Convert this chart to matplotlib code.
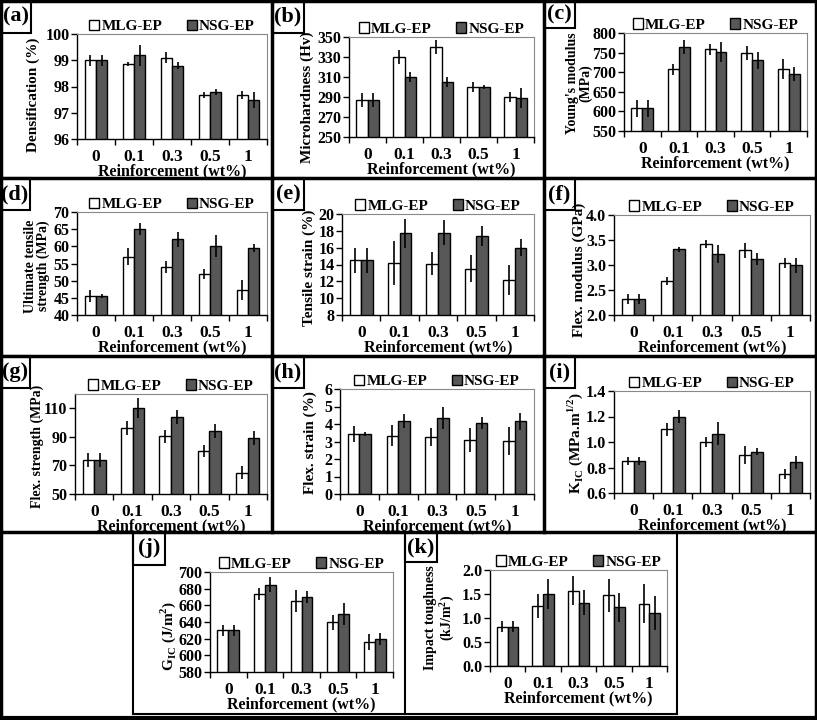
import numpy as np
import matplotlib
matplotlib.use("Agg")
import matplotlib.pyplot as plt
from matplotlib.patches import Patch, Rectangle
from matplotlib.lines import Line2D

plt.rcParams['font.family'] = 'Liberation Serif'
plt.rcParams['font.weight'] = 'bold'
plt.rcParams['mathtext.fontset'] = 'custom'
plt.rcParams['mathtext.rm'] = 'Liberation Serif:bold'
plt.rcParams['mathtext.bf'] = 'Liberation Serif:bold'

W, H = 817, 720

categories = ["0", "0.1", "0.3", "0.5", "1"]
series = ["MLG-EP", "NSG-EP"]

# (a) densification
dens_mlg = [99.0, 98.87, 99.1, 97.68, 97.68]
dens_mlg_err = [0.2, 0.08, 0.2, 0.12, 0.15]
dens_nsg = [99.0, 99.2, 98.8, 97.8, 97.5]
dens_nsg_err = [0.2, 0.4, 0.15, 0.12, 0.3]

# (b) microhardness
hard_mlg = [287, 330, 340, 300, 290]
hard_mlg_err = [7, 7, 7, 5, 5]
hard_nsg = [287, 310, 305, 300, 289]
hard_nsg_err = [7, 5, 5, 2, 10]

# (c) young's modulus
ym_mlg = [608, 707, 758, 748, 708]
ym_mlg_err = [22, 15, 15, 18, 25]
ym_nsg = [608, 765, 752, 730, 695]
ym_nsg_err = [22, 18, 25, 22, 18]

# (d) ultimate tensile strength
uts_mlg = [45.5, 57, 54, 52, 47.3]
uts_mlg_err = [1.8, 2.5, 1.8, 1.5, 2.8]
uts_nsg = [45.5, 65, 62, 60, 59.5]
uts_nsg_err = [0.6, 1.7, 2.2, 3.2, 1.2]

# (e) tensile strain
ts_mlg = [14.5, 14.2, 14.1, 13.5, 12.2]
ts_mlg_err = [1.5, 2.6, 1.4, 1.6, 1.8]
ts_nsg = [14.5, 17.7, 17.8, 17.4, 16.0]
ts_nsg_err = [1.5, 1.7, 1.5, 1.2, 1.0]

# (f) flexural modulus
fm_mlg = [2.32, 2.68, 3.43, 3.3, 3.05]
fm_mlg_err = [0.1, 0.08, 0.08, 0.15, 0.1]
fm_nsg = [2.32, 3.32, 3.22, 3.12, 3.0]
fm_nsg_err = [0.1, 0.05, 0.18, 0.12, 0.15]

# (g) flexural strength
fs_mlg = [74, 96, 90.5, 80, 65]
fs_mlg_err = [5, 5, 4.5, 4, 4.5]
fs_nsg = [74, 110.5, 104, 94, 89]
fs_nsg_err = [5, 7, 5, 5, 5]

# (h) flexural strain
fst_mlg = [3.42, 3.32, 3.25, 3.1, 3.05]
fst_mlg_err = [0.45, 0.6, 0.5, 0.7, 0.8]
fst_nsg = [3.42, 4.2, 4.35, 4.05, 4.15]
fst_nsg_err = [0.1, 0.4, 0.65, 0.35, 0.5]

# (i) K_IC
kic_mlg = [0.85, 1.1, 1.0, 0.9, 0.75]
kic_mlg_err = [0.03, 0.05, 0.04, 0.07, 0.04]
kic_nsg = [0.85, 1.2, 1.065, 0.925, 0.84]
kic_nsg_err = [0.03, 0.05, 0.09, 0.03, 0.05]

# (j) G_IC
gic_mlg = [630, 674, 665, 640, 616]
gic_mlg_err = [7, 7, 13, 9, 10]
gic_nsg = [630, 685, 670, 650, 620]
gic_nsg_err = [7, 9, 7, 13, 7]

# (k) impact toughness
imp_mlg = [0.82, 1.25, 1.57, 1.47, 1.3]
imp_mlg_err = [0.12, 0.26, 0.3, 0.35, 0.4]
imp_nsg = [0.82, 1.5, 1.32, 1.22, 1.1]
imp_nsg_err = [0.12, 0.32, 0.26, 0.3, 0.35]

dark = '#575757'


def box(l, t, r, b):
    return [l / W, 1 - b / H, (r - l) / W, (b - t) / H]


def fig_line(fig, x0, y0, x1, y1, lw=2.5):
    fig.add_artist(Line2D([x0 / W, x1 / W], [1 - y0 / H, 1 - y1 / H],
                          transform=fig.transFigure, color='black', lw=lw))


def panel_label(fig, text, l, t, r, b):
    fig.add_artist(Rectangle((l / W, 1 - b / H), (r - l) / W, (b - t) / H,
                             transform=fig.transFigure, fill=False,
                             edgecolor='black', lw=1.5, zorder=5))
    fig.text((l + r) / 2 / W, 1 - (t + b) / 2 / H, text, ha='center', va='center',
             fontsize=16, fontweight='bold', zorder=6)


def bar_panel(fig, pos, mlg, mlg_err, nsg, nsg_err, ylim, yticks, ylabel, lab_xy,
              fmt="{:g}", lab_size=11):
    ax = fig.add_axes(box(*pos))
    x = np.arange(len(categories))
    w = 0.3
    ax.bar(x - w / 2, mlg, w, color='white', edgecolor='black', lw=1.0, zorder=2)
    ax.bar(x + w / 2, nsg, w, color=dark, edgecolor='black', lw=1.0, zorder=2)
    ax.errorbar(x - w / 2, mlg, yerr=mlg_err, fmt='none', ecolor='black', elinewidth=1.2, zorder=3)
    ax.errorbar(x + w / 2, nsg, yerr=nsg_err, fmt='none', ecolor='black', elinewidth=1.2, zorder=3)
    ax.set_xlim(-0.5, len(categories) - 0.5)
    ax.set_ylim(*ylim)
    ax.set_yticks(yticks)
    ax.set_yticklabels([fmt.format(v) for v in yticks])
    ax.set_xticks(x)
    ax.set_xticklabels(categories)
    ax.set_xticks(np.arange(-0.5, len(categories)), minor=True)
    ax.tick_params(axis='x', which='major', length=0, pad=7, labelsize=12.5)
    ax.tick_params(axis='x', which='minor', length=4, width=1, direction='out')
    ax.tick_params(axis='y', length=4, width=1, direction='out', labelsize=11.5, pad=1.5)
    for s in ['top', 'right']:
        ax.spines[s].set_color('#888888')
        ax.spines[s].set_linewidth(0.8)
    for s in ['left', 'bottom']:
        ax.spines[s].set_linewidth(1.0)
    ax.set_xlabel("Reinforcement (wt%)", fontsize=11.5, fontweight='bold', labelpad=-1)
    fig.text(lab_xy[0] / W, 1 - lab_xy[1] / H, ylabel, rotation=90, ha='center', va='center',
             fontsize=lab_size, fontweight='bold', linespacing=0.95, multialignment='center')
    handles = [Patch(facecolor='white', edgecolor='black', lw=1.0),
               Patch(facecolor=dark, edgecolor='black', lw=1.0)]
    ax.legend(handles, series, loc='lower center', bbox_to_anchor=(0.5, 0.98), ncol=2,
              frameon=False, fontsize=11, handlelength=0.65, handleheight=0.65,
              handletextpad=0.15, columnspacing=1.6, borderaxespad=0.1, borderpad=0.1)
    return ax


fig = plt.figure(figsize=(W / 100, H / 100), dpi=100)

# row 1
bar_panel(fig, (77, 34, 267, 139), dens_mlg, dens_mlg_err, dens_nsg, dens_nsg_err,
          (96, 100), [96, 97, 98, 99, 100], "Densification (%)", (33, 95))
bar_panel(fig, (349, 37, 534, 137), hard_mlg, hard_mlg_err, hard_nsg, hard_nsg_err,
          (250, 350), [250, 270, 290, 310, 330, 350], "Microhardness (Hv)", (307, 97))
bar_panel(fig, (624, 33, 807, 131), ym_mlg, ym_mlg_err, ym_nsg, ym_nsg_err,
          (550, 800), [550, 600, 650, 700, 750, 800], "Young's modulus\n(MPa)", (579, 83),
          lab_size=10)
# row 2
bar_panel(fig, (77, 212, 267, 315), uts_mlg, uts_mlg_err, uts_nsg, uts_nsg_err,
          (40, 70), [40, 45, 50, 55, 60, 65, 70], "Ultimate tensile\nstrength (MPa)", (37, 266),
          lab_size=10)
bar_panel(fig, (342, 214, 534, 315), ts_mlg, ts_mlg_err, ts_nsg, ts_nsg_err,
          (8, 20), [8, 10, 12, 14, 16, 18, 20], "Tensile strain (%)", (309, 268))
bar_panel(fig, (614, 215, 810, 315), fm_mlg, fm_mlg_err, fm_nsg, fm_nsg_err,
          (2.0, 4.0), [2.0, 2.5, 3.0, 3.5, 4.0], "Flex. modulus (GPa)", (579, 270), fmt="{:.1f}")
# row 3
bar_panel(fig, (75, 394, 267, 494), fs_mlg, fs_mlg_err, fs_nsg, fs_nsg_err,
          (50, 120), [50, 70, 90, 110], "Flex. strength (MPa)", (37, 446), lab_size=10)
bar_panel(fig, (340, 389, 534, 494), fst_mlg, fst_mlg_err, fst_nsg, fst_nsg_err,
          (0, 6), [0, 1, 2, 3, 4, 5, 6], "Flex. strain (%)", (310, 443))
bar_panel(fig, (614, 391, 810, 493), kic_mlg, kic_mlg_err, kic_nsg, kic_nsg_err,
          (0.6, 1.4), [0.6, 0.8, 1.0, 1.2, 1.4],
          r"K$_{\mathregular{IC}}$ (MPa.m$^{\mathregular{1/2}}$)", (575, 443), fmt="{:.1f}")
# row 4
bar_panel(fig, (210, 572, 393, 672), gic_mlg, gic_mlg_err, gic_nsg, gic_nsg_err,
          (580, 700), [580, 600, 620, 640, 660, 680, 700],
          r"G$_{\mathregular{IC}}$ (J/m$^{\mathregular{2}}$)", (168, 636))
bar_panel(fig, (490, 570, 667, 666), imp_mlg, imp_mlg_err, imp_nsg, imp_nsg_err,
          (0.0, 2.0), [0.0, 0.5, 1.0, 1.5, 2.0],
          "Impact toughness\n(kJ/m$^{\\mathregular{2}}$)", (440, 618), fmt="{:.1f}", lab_size=10)

# panel frames
fig_line(fig, 1, 1, 816, 1)
fig_line(fig, 1, 1, 1, 719)
fig_line(fig, 816, 1, 816, 719)
fig_line(fig, 1, 718, 816, 718, lw=3)
for y in [178, 356, 532]:
    fig_line(fig, 1, y, 816, y)
for x in [272, 544]:
    fig_line(fig, x, 1, x, 532)
fig_line(fig, 133, 532, 133, 714, lw=1.5)
fig_line(fig, 405, 532, 405, 714, lw=1.5)
fig_line(fig, 677, 532, 677, 714, lw=1.5)
fig_line(fig, 133, 714, 677, 714, lw=1.5)

labels = [("(a)", 0, 0, 31, 33), ("(b)", 272, 0, 304, 33), ("(c)", 544, 0, 575, 28),
          ("(d)", 0, 178, 30, 210), ("(e)", 272, 178, 304, 210), ("(f)", 544, 178, 575, 210),
          ("(g)", 0, 356, 30, 388), ("(h)", 272, 356, 304, 388), ("(i)", 544, 356, 575, 388),
          ("(j)", 133, 532, 165, 565), ("(k)", 405, 532, 437, 562)]
for lab in labels:
    panel_label(fig, *lab)

fig.savefig("out.png", dpi=100)
